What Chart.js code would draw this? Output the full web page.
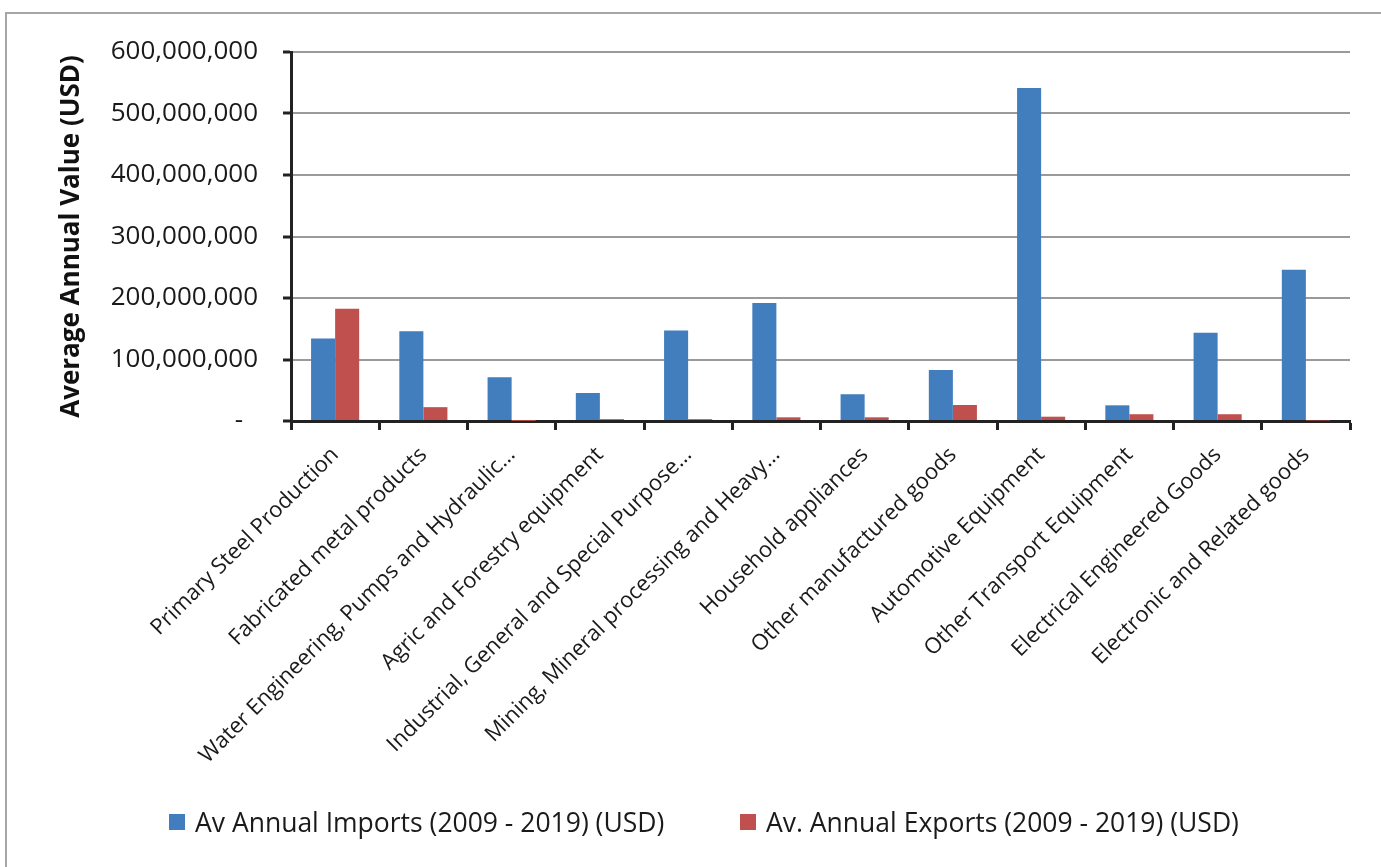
<!DOCTYPE html>
<html>
<head>
<meta charset="utf-8">
<title>Average annual imports and exports by sector</title>
<script src="https://cdn.jsdelivr.net/npm/chart.js@4.4.0/dist/chart.umd.min.js"></script>
<style>
  body { margin: 0; background: #fff; overflow: hidden; font-family: 'Open Sans', sans-serif; }
  #wrap { position: relative; width: 1381px; height: 867px; }
  #frame { position: absolute; left: 5px; top: 12px; width: 1420px; height: 900px; border: 2px solid #a6a6a6; }
  #chart { position: absolute; left: 0; top: 0; }
  .leg { position: absolute; top: 806px; height: 32px; display: flex; align-items: center; font-size: 26.5px; color: #1a1a1a; white-space: nowrap; }
  .leg i { display: inline-block; width: 16px; height: 16px; margin-right: 10px; }
</style>
</head>
<body>
<div id="wrap">
  <div id="frame"></div>
  <canvas id="chart" width="1381" height="867"></canvas>
  <div id="legend"></div>
</div>
<script>
const categories = [
  'Primary Steel Production',
  'Fabricated metal products',
  'Water Engineering, Pumps and Hydraulic\u2026',
  'Agric and Forestry equipment',
  'Industrial, General and Special Purpose\u2026',
  'Mining, Mineral processing and Heavy\u2026',
  'Household appliances',
  'Other manufactured goods',
  'Automotive Equipment',
  'Other Transport Equipment',
  'Electrical Engineered Goods',
  'Electronic and Related goods'
];
const importsUsd = [134e6, 146e6, 71e6, 45.5e6, 147e6, 192e6, 43.5e6, 83e6, 541.5e6, 25.5e6, 143.5e6, 246e6];
const exportsUsd = [182.5e6, 22.5e6, 0.2e6, 3e6, 3e6, 6e6, 6e6, 26e6, 7e6, 11e6, 11e6, 0.8e6];
const seriesNames = ['Av Annual Imports (2009 - 2019) (USD)', 'Av. Annual Exports (2009 - 2019) (USD)'];
const yMax = 600e6;
const yStep = 100e6;

const blue = '#427dbe';
const red = '#c0504d';
const ink = '#1a1a1a';
const axisDark = '#222';

const chart = new Chart(document.getElementById('chart'), {
  type: 'bar',
  data: {
    labels: categories,
    datasets: [
      { label: seriesNames[0], data: importsUsd, backgroundColor: blue },
      { label: seriesNames[1], data: exportsUsd, backgroundColor: red }
    ]
  },
  options: {
    responsive: false,
    animation: false,
    datasets: { bar: { categoryPercentage: 0.545, barPercentage: 1.0 } },
    layout: { padding: { left: 55, right: 31, top: 52, bottom: 76 } },
    plugins: { legend: { display: false }, tooltip: { enabled: false } },
    scales: {
      x: {
        // room for the long rotated category names
        afterFit(s) { s.height = 370; },
        ticks: {
          minRotation: 45, maxRotation: 45, autoSkip: false, padding: 12,
          font: { family: 'Open Sans', size: 22 }, color: ink
        },
        grid: { drawOnChartArea: false, offset: true, tickColor: axisDark, tickLength: 9, tickWidth: 3 },
        border: { color: axisDark, width: 3 }
      },
      y: {
        min: 0, max: yMax,
        afterFit(s) { s.width = 236; },
        ticks: {
          stepSize: yStep, padding: 25, color: ink,
          font: { family: 'Open Sans', size: 26 },
          callback: v => v === 0 ? '-\u2007' : v.toLocaleString('en-US')
        },
        grid: { color: '#9a9a9a', lineWidth: 2, tickColor: axisDark, tickLength: 8, tickWidth: 3 },
        border: { color: axisDark, width: 3 },
        title: {
          display: true, text: 'Average Annual Value (USD)', color: '#111',
          font: { family: 'Open Sans', size: 26, weight: 'bold' },
          padding: { top: 1, bottom: 0 }
        }
      }
    }
  }
});

// legend below the plot, built from the datasets
const legendLeft = [169, 740];
const legendBox = document.getElementById('legend');
chart.data.datasets.forEach((ds, i) => {
  const item = document.createElement('div');
  item.className = 'leg';
  item.style.left = legendLeft[i] + 'px';
  item.innerHTML = `<i style="background:${ds.backgroundColor}"></i><span>${ds.label}</span>`;
  legendBox.appendChild(item);
});
</script>
</body>
</html>
